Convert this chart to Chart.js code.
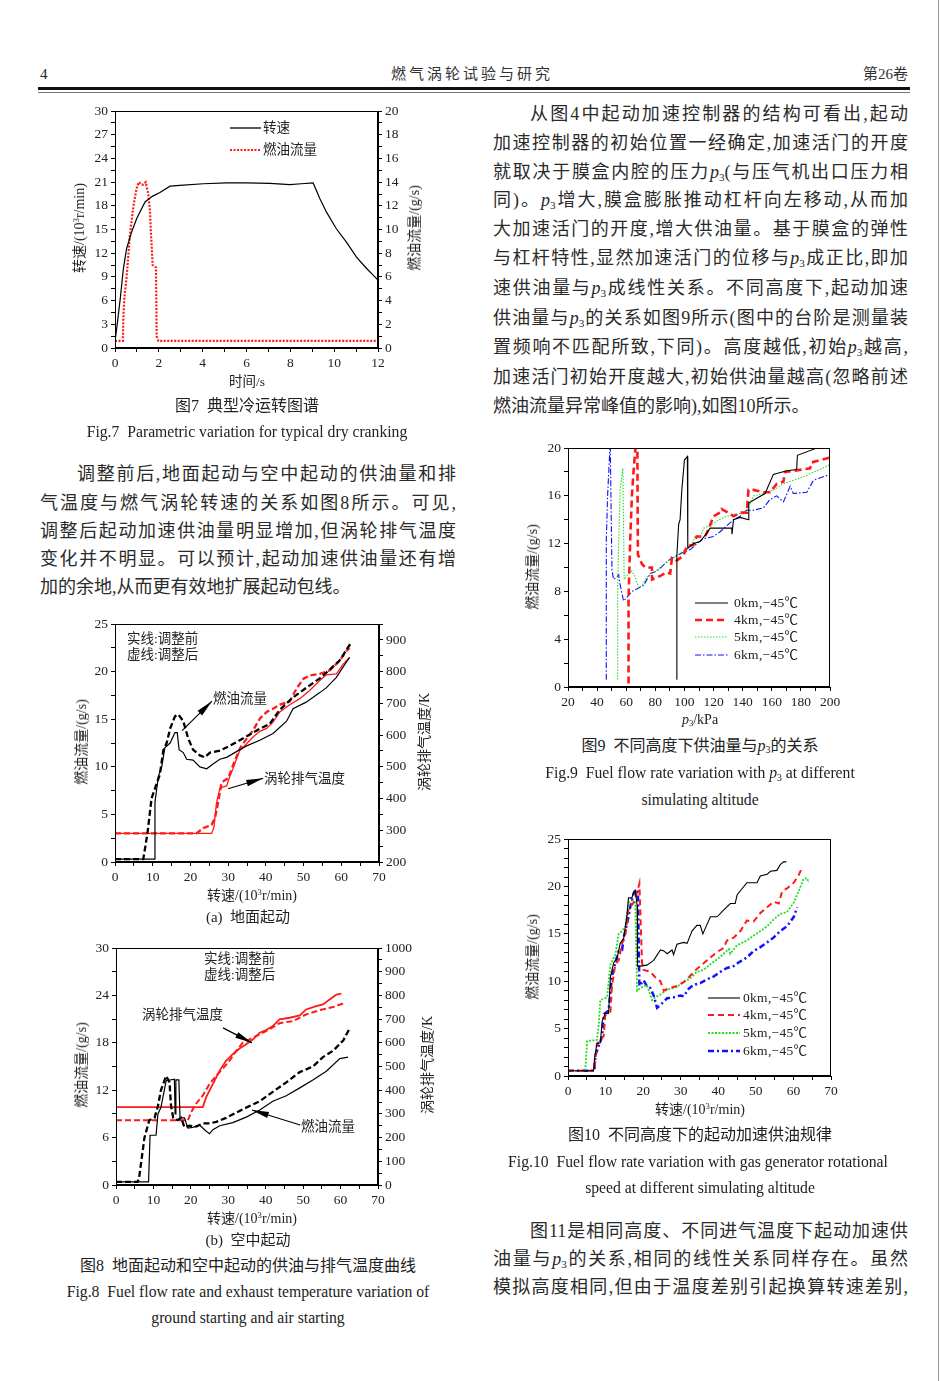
<!DOCTYPE html>
<html><head><meta charset="utf-8">
<script src="https://cdn.jsdelivr.net/npm/chart.js@4"></script>
<style>
html,body{margin:0;padding:0;background:#fff;}
body{width:941px;height:1381px;position:relative;overflow:hidden;font-family:"Liberation Serif","Noto Sans CJK SC",serif;color:#222;}
.t{position:absolute;white-space:nowrap;line-height:1;}
.c{transform:translate(-50%,-50%);}
.l{transform:translateY(-50%);}
.r{transform:translate(-100%,-50%);}
.v{transform:translate(-50%,-50%) rotate(-90deg);}
.para{position:absolute;font-size:18px;height:28px;line-height:28px;white-space:nowrap;color:#2a2a2a;}
.j{text-align:justify;text-align-last:justify;white-space:normal;overflow:hidden;}
sub{font-size:0.62em;vertical-align:-0.25em;line-height:0;}
sup{font-size:0.62em;vertical-align:0.55em;line-height:0;}
canvas{position:absolute;}
svg{position:absolute;overflow:visible;}
</style></head>
<body>
<script>
// ---------------- DATA ----------------
// Fig.7
const f7_speed_t = [0, 0.1, 0.25, 0.38, 0.53, 0.76, 0.99, 1.37, 1.7, 2.05, 2.51, 2.96, 4.03, 5.09, 6, 7.07, 7.98, 8.5, 9.04, 9.35, 9.65, 10.1, 10.56, 11.02, 11.47, 12.0];
const f7_speed   = [0.8, 3, 6.5, 10, 12.6, 14.7, 16.4, 18.5, 19.2, 19.7, 20.5, 20.6, 20.8, 20.9, 20.9, 20.85, 20.7, 20.8, 20.9, 18.9, 17.2, 15.1, 13.4, 11.5, 10.1, 8.6];
const f7_fuel_t  = [0, 0.36, 0.38, 0.43, 0.53, 0.68, 0.84, 0.99, 1.09, 1.2, 1.29, 1.4, 1.52, 1.6, 1.63, 1.72, 1.8, 1.87, 1.9, 1.98, 12];
const f7_fuel    = [0.6, 0.6, 2.5, 4.3, 6, 9.5, 12, 13.5, 14, 13.8, 13.8, 14, 13, 11.5, 10, 7, 6.9, 6.8, 1, 0.6, 0.6];

// Fig.8(a) ground start
const a_fuelBefore_x = [0, 10.5, 10.6, 11.5, 12.4, 13.2, 14.6, 15.9, 16.5, 17, 18.1, 19, 20.7, 22.5, 24.3, 26, 27.8, 29.6, 32.2, 34.9, 38.4, 41.9, 45.5, 47.2, 50.7, 54.3, 56, 58.7, 60.5, 62.2];
const a_fuelBefore_y = [0.3, 0.3, 6.3, 9, 10, 12, 12.5, 13.6, 13.6, 11.8, 11.5, 10.8, 10.7, 10, 9.8, 10.3, 10.8, 11, 11.6, 12.2, 12.8, 13.5, 14.8, 16.1, 16.8, 17.8, 18.3, 19.4, 20.5, 21.5];
const a_fuelAfter_x  = [0, 7.5, 8.6, 9.7, 11, 11.9, 12.8, 13.7, 14.6, 15.9, 16.8, 18.1, 19.4, 20.7, 22.5, 23.8, 25.2, 27.8, 30.4, 33.1, 35.7, 38.4, 41, 43.7, 47.2, 50.7, 54.3, 56.9, 59.6, 62.2, 62.8];
const a_fuelAfter_y  = [0.3, 0.3, 3, 6.7, 8.2, 9.2, 11.7, 12.5, 14, 15.3, 15.5, 14.8, 13, 11.8, 11.2, 11, 11.5, 11.7, 12.2, 12.8, 13.4, 14, 14.5, 16, 17.3, 18.3, 19.3, 20.2, 21.2, 22.8, 23];
const a_tempBefore_x = [0, 25.6, 26.2, 26.9, 27.8, 28.7, 29.6, 30.4, 31.3, 33.1, 34.9, 36.6, 38.4, 40.2, 41.9, 43.7, 46.3, 49, 51.6, 54.3, 56, 58.7, 60.5, 62.2];
const a_tempBefore_y = [290, 290, 307, 385, 432, 437, 440, 469, 495, 552, 573, 594, 612, 621, 641, 673, 696, 715, 741, 772, 790, 793, 824, 845];
const a_tempAfter_x  = [0, 21.6, 23.4, 25.6, 26.5, 27.4, 28.2, 29.1, 30, 31.3, 33.1, 34.9, 36.6, 38.4, 40.2, 41.9, 43.7, 46.3, 48.1, 49.9, 51.6, 54.3, 56.9, 59.6, 61.4, 62.2];
const a_tempAfter_y  = [290, 290, 307, 317, 338, 390, 448, 458, 464, 505, 558, 589, 615, 652, 673, 683, 696, 706, 746, 777, 788, 793, 804, 835, 866, 874];

// Fig.8(b) air start
const b_fuelBefore_x = [0, 8.7, 9.1, 10.7, 11.2, 12, 13.4, 15.6, 15.8, 16, 16.8, 17.1, 18.3, 19.2, 20.5, 22.3, 24.1, 25, 25.9, 27.7, 31.2, 34.8, 38.4, 41.9, 45.5, 49.1, 52.6, 56.2, 59.8, 62];
const b_fuelBefore_y = [0.4, 0.4, 6.3, 6.3, 9, 9.8, 13.2, 13.4, 9, 13.3, 13.3, 8.5, 8.5, 7.2, 7.3, 7.6, 6.8, 6.5, 7, 7.5, 7.9, 8.6, 9.5, 10.6, 11.3, 12.3, 13.3, 14.4, 16, 16.2];
const b_fuelAfter_x  = [0, 5.8, 6.2, 7.6, 8.9, 10.3, 11.2, 12, 13.4, 14.3, 14.7, 15.3, 16.5, 17.4, 18.3, 19.6, 21.4, 23.2, 25, 26.8, 29.4, 33.9, 38.4, 41.9, 45.5, 49.1, 52.6, 55.3, 58, 60.7, 62.4];
const b_fuelAfter_y  = [0.4, 0.4, 1, 6, 8.2, 8.5, 10, 12, 13.8, 13, 10, 8.5, 8.2, 8.5, 7.3, 7.5, 7.4, 7.8, 7.8, 8.0, 8.5, 9.6, 10.6, 11.8, 13, 14.3, 15, 16.2, 17, 18.3, 19.8];
const b_tempBefore_x = [0, 23.2, 24.1, 25.9, 27.7, 29.4, 31.2, 33, 34.8, 36.6, 38.4, 40.1, 41.9, 43.7, 46.4, 49.1, 50.8, 53.5, 55.3, 57.1, 58.9, 60.2];
const b_tempBefore_y = [329, 329, 371, 427, 483, 524, 552, 576, 594, 615, 643, 654, 671, 699, 706, 716, 741, 755, 762, 783, 804, 808];
const b_tempAfter_x  = [0, 19.2, 20.1, 21.4, 23.2, 25, 26.8, 28.5, 30.3, 32.1, 33.9, 35.7, 38.4, 41, 43.7, 47.3, 50.8, 54.4, 58, 61.1];
const b_tempAfter_y  = [273, 273, 308, 343, 378, 427, 462, 490, 524, 566, 601, 615, 636, 657, 683, 692, 720, 738, 751, 769];

// Fig.9 fuel flow vs p3
const f9_0km_x = [94.8, 94.8, 96, 97, 98.2, 100, 102, 102.3, 106.2, 110.8, 114.2, 117.7, 122.2, 125.7, 132.5, 132.7, 133.7, 138.3, 144, 144.2, 149.7, 155.4, 161.1, 170.3, 177.1, 177.6, 190.9];
const f9_0km_y = [0.6, 11, 13.6, 14, 16.5, 19, 19.3, 11.6, 12, 12.2, 12.7, 13.3, 13.3, 13.3, 13.3, 12.8, 14, 14.2, 14, 15.4, 15.8, 16.2, 17.8, 18.1, 18.2, 19.4, 20];
const f9_4km_x = [61.6, 61.6, 62.8, 63.9, 65, 66.2, 67, 67.6, 68, 70.8, 73.1, 77.6, 77.8, 83.4, 88, 90.2, 91.4, 94.8, 99.4, 101.7, 106.2, 108.5, 114.2, 116.5, 120, 124.5, 125.5, 131.4, 133.7, 138.3, 142.8, 144, 147.5, 154.3, 158.8, 163.4, 168, 169.1, 174.8, 186.3, 187.4, 200];
const f9_4km_y = [0.3, 7.5, 12.5, 16, 18, 19.8, 21, 21, 11.1, 10.3, 10, 10, 9, 9.3, 9.6, 9.5, 10.8, 10.6, 11, 11.8, 11.9, 12.6, 12.6, 13.2, 14.3, 14.6, 14.9, 14.5, 14.3, 14.6, 14.6, 16.5, 16.5, 16.3, 16.3, 17, 17.2, 18, 18.1, 18.3, 18.8, 19.2];
const f9_5km_x = [54.1, 54.1, 54.8, 55.9, 57.7, 58.6, 61.6, 63.9, 66.2, 68.5, 70.8, 74.2, 78.8, 83.4, 88, 92.5, 97.1, 101.7, 106.2, 107.4, 110.8, 113.1, 117.7, 122.2, 129.1, 135.9, 142.8, 147.5, 154.3, 161.1, 168, 174.8, 181.7, 190.9, 200];
const f9_5km_y = [0.6, 8, 12, 16.6, 18.3, 9, 9.5, 9.7, 9.2, 8.3, 8.5, 9.2, 9.6, 10, 10.5, 10.8, 11.2, 11.6, 12.2, 12.7, 12.5, 13.3, 13.5, 13.9, 14.3, 14.4, 14.8, 16, 16.2, 16.5, 17, 17.3, 17.6, 18.1, 18.6];
const f9_6km_x = [46.3, 46.3, 47.2, 49, 50.2, 51.3, 53.6, 54.8, 55.9, 58.2, 60.5, 63.9, 67.3, 71.9, 76.5, 81.1, 85.6, 90.2, 94.8, 99.4, 104, 108.5, 113.1, 120, 124.5, 129.1, 133.7, 138.3, 142.8, 147.5, 154.3, 158.8, 163.4, 168, 172.6, 174.8, 184, 188.6, 200];
const f9_6km_y = [0.6, 12.2, 16, 20.5, 9.8, 9, 9.2, 9.4, 8.5, 7.2, 7.5, 8, 8.2, 8.5, 9.5, 9.7, 10.2, 10.7, 11, 11.3, 11.5, 12, 12.4, 12.6, 13, 13.5, 14, 14.3, 14.8, 14.8, 15, 15.7, 16, 15.5, 16.8, 16.2, 16.3, 17.3, 17.8];

// Fig.10 fuel flow vs speed
const f10_0km_x = [0, 6.8, 7.1, 7.7, 8.6, 9.1, 9.9, 10.8, 11.3, 12.2, 13, 13.9, 14.8, 15.7, 16.1, 17, 17.5, 17.9, 18.4, 18.5, 19.3, 21, 22.8, 24.6, 25.5, 26.4, 27.7, 28.1, 29, 30.8, 31.7, 33, 34.3, 35.2, 35.9, 37, 37.9, 39.7, 41.4, 43.2, 44.5, 45, 47.6, 50.3, 51.2, 53, 53.9, 55.6, 56.5, 57.4, 58.1];
const f10_0km_y = [0.55, 0.55, 2, 3.4, 3.5, 5.8, 6.6, 6.6, 10.5, 12, 12.3, 14, 14.5, 17, 18.8, 18.8, 19.4, 19.6, 18, 11.6, 11.6, 11.7, 12.2, 13.3, 13.2, 12.9, 13.3, 12.8, 13.9, 14.1, 14, 15.3, 15.9, 15.9, 15, 16, 16.8, 16.8, 17.5, 18.2, 18.2, 19.1, 20.4, 20.4, 21.1, 21.3, 21.6, 21.7, 22.3, 22.6, 22.6];
const f10_4km_x = [0, 7, 7.7, 8.6, 9.5, 9.9, 11.3, 11.7, 12.6, 13.5, 14.4, 15.3, 16.1, 17.5, 18.4, 19, 19.7, 20.1, 21.9, 23.7, 24.6, 25.5, 26.4, 29, 30.8, 32.6, 34.3, 36.1, 37.9, 39.7, 41.4, 42.3, 44.1, 45.9, 47.6, 49.4, 51.2, 53, 54.7, 56.1, 57, 58.3, 60.1, 61.4, 62.3];
const f10_4km_y = [0.55, 0.55, 3.4, 3.8, 4.2, 6.4, 6.8, 9.5, 11.8, 12.2, 14, 15, 17.6, 18.3, 19.4, 20.3, 12, 11.2, 11, 10.2, 10, 9, 9.2, 9.5, 9.9, 10.6, 11.3, 11.9, 12.5, 13.1, 13.5, 14.3, 14.6, 15.3, 16.4, 16.3, 17.2, 17.8, 18.4, 18.2, 19.5, 19.8, 20.4, 21.2, 22];
const f10_5km_x = [0, 4.6, 5.1, 7.7, 8.2, 8.6, 10.4, 11.3, 12.6, 13.5, 14.4, 15.3, 16.1, 17, 17.9, 18.4, 19.3, 21, 22.4, 23.2, 24.6, 26.4, 29, 30.8, 32.6, 34.3, 36.1, 37.9, 39.7, 41.4, 42.8, 43.2, 45, 47.6, 49.4, 51.2, 53, 54.7, 56.5, 58.3, 60.1, 61.4, 62.7, 63.6, 64.1];
const f10_5km_y = [0.55, 0.55, 3.7, 3.8, 5.5, 8, 8.3, 11.8, 12.8, 15, 15.3, 15.8, 18.3, 18.5, 18.3, 9, 9.3, 9.6, 8, 8.3, 8.6, 9.1, 9.4, 9.9, 10.3, 11, 11.2, 11.8, 12.3, 12.9, 13.4, 12.9, 13.8, 14.3, 14.8, 15.3, 15.8, 16.5, 17.1, 17.3, 18.3, 19.5, 20.8, 20.9, 20.4];
const f10_6km_x = [0, 7, 7.3, 8.2, 8.6, 9.1, 9.5, 10.8, 11.7, 12.6, 13.5, 14.4, 14.8, 15.7, 16.6, 17.5, 18.2, 18.6, 19, 20.1, 21, 21.9, 22.8, 23.7, 24.6, 26.4, 28.1, 29.9, 30.8, 32.1, 33.4, 35.2, 37, 38.8, 40.6, 42.3, 44.1, 45.9, 47.6, 49.4, 51.2, 53, 54.7, 56.5, 58.3, 59.2, 60.1, 61];
const f10_6km_y = [0.55, 0.55, 2.2, 3.2, 3.6, 4.3, 6.5, 6.9, 10.5, 12, 13.2, 13.3, 14.6, 16, 17.9, 19.3, 19.7, 19.6, 9.5, 10.1, 9.5, 9.3, 8.5, 7.2, 7.5, 8.2, 8.3, 8.5, 8.4, 9.2, 9.6, 9.8, 10.2, 10.5, 11, 11.4, 11.6, 12.1, 12.5, 13.2, 13.6, 14.1, 14.6, 15.3, 15.8, 16.3, 16.8, 17.8];

const legend9  = ['0km,−45℃', '4km,−45℃', '5km,−45℃', '6km,−45℃'];
const legend7  = ['转速', '燃油流量'];

// ---------------- HELPERS ----------------
const zip = (xs, ys) => xs.map((x, i) => ({x: x, y: ys[i]}));
const SERIF = '"Liberation Serif","Noto Sans CJK SC",serif';
function T(html, x, y, cls, size, extra) {
  const d = document.createElement('div');
  d.className = 't ' + (cls || 'c');
  d.style.left = x + 'px'; d.style.top = y + 'px';
  d.style.fontSize = (size || 13) + 'px';
  if (extra) d.style.cssText += extra;
  d.innerHTML = html;
  document.body.appendChild(d);
  return d;
}
function P(html, x, cy, w, justify) {
  const d = document.createElement('div');
  d.className = 'para' + (justify ? ' j' : '');
  d.style.left = x + 'px'; d.style.top = (cy - 14) + 'px';
  if (justify) d.style.width = w + 'px';
  d.innerHTML = html;
  document.body.appendChild(d);
}
function legendLine(x1, x2, y, color, width, dash) {
  const s = document.createElementNS('http://www.w3.org/2000/svg', 'svg');
  s.setAttribute('width', x2 - x1); s.setAttribute('height', 6);
  s.style.left = x1 + 'px'; s.style.top = (y - 3) + 'px';
  s.innerHTML = '<line x1="0" y1="3" x2="' + (x2 - x1) + '" y2="3" stroke="' + color + '" stroke-width="' + width + '"' + (dash ? ' stroke-dasharray="' + dash + '"' : '') + '/>';
  document.body.appendChild(s);
}
function hline(x1, x2, y, h, color) {
  const d = document.createElement('div');
  d.style.cssText = 'position:absolute;left:' + x1 + 'px;top:' + y + 'px;width:' + (x2 - x1) + 'px;height:' + h + 'px;background:' + color + ';';
  document.body.appendChild(d);
}
const isMajor = (v, m) => Math.abs(v / m - Math.round(v / m)) < 1e-6;
function scale(pos, min, max, step, major, fit) {
  return {
    type: 'linear', position: pos, min: min, max: max,
    ticks: {stepSize: step, autoSkip: false, maxRotation: 0, minRotation: 0, includeBounds: false,
      color: '#222', padding: 3, font: {family: SERIF, size: 13.5},
      callback: v => isMajor(v, major) ? String(Math.round(v)) : ''},
    grid: {drawOnChartArea: false, drawTicks: true, tickLength: 4, color: '#000', tickColor: '#000', lineWidth: 1},
    border: {display: true, color: '#000', width: 1},
    afterFit: fit
  };
}
const boxPlugin = {
  id: 'box',
  afterDraw(chart) {
    const a = chart.chartArea, ctx = chart.ctx;
    ctx.save(); ctx.strokeStyle = '#000'; ctx.lineWidth = 1;
    ctx.strokeRect(Math.round(a.left) + 0.5, Math.round(a.top) + 0.5, Math.round(a.right - a.left) - 1, Math.round(a.bottom - a.top) - 1);
    ctx.restore();
  }
};
const arrowPlugin = {
  id: 'arrows',
  afterDatasetsDraw(chart, args, opts) {
    const list = opts.list || [];
    const ctx = chart.ctx, xs = chart.scales.x;
    ctx.save(); ctx.strokeStyle = '#000'; ctx.fillStyle = '#000';
    list.forEach(a => {
      const ys = chart.scales[a.axis || 'y'];
      const x1 = xs.getPixelForValue(a.x1), y1 = ys.getPixelForValue(a.y1);
      const x2 = xs.getPixelForValue(a.x2), y2 = ys.getPixelForValue(a.y2);
      ctx.lineWidth = 1.2; ctx.beginPath(); ctx.moveTo(x1, y1); ctx.lineTo(x2, y2); ctx.stroke();
      const ang = Math.atan2(y2 - y1, x2 - x1), c = Math.cos(ang), s = Math.sin(ang), len = 17, hw = 3.2;
      ctx.beginPath(); ctx.moveTo(x2, y2);
      ctx.lineTo(x2 - len * c + hw * s, y2 - len * s - hw * c);
      ctx.lineTo(x2 - len * c - hw * s, y2 - len * s + hw * c);
      ctx.closePath(); ctx.fill();
    });
    ctx.restore();
  }
};
const PADL = 40, PADR = 40, PADT = 10, PADB = 30;
function makeChart(area, scales, datasets, arrows) {
  const c = document.createElement('canvas');
  const w = area.R - area.L + PADL + PADR, h = area.B - area.T + PADT + PADB;
  c.width = w; c.height = h;
  c.style.left = (area.L - PADL) + 'px'; c.style.top = (area.T - PADT) + 'px';
  c.style.width = w + 'px'; c.style.height = h + 'px';
  document.body.appendChild(c);
  const hasRight = !!scales.y2;
  new Chart(c, {
    type: 'line',
    data: {datasets: datasets},
    options: {
      responsive: false, animation: false, events: [],
      layout: {padding: {top: PADT, right: hasRight ? 0 : PADR, left: 0, bottom: 0}},
      plugins: {legend: {display: false}, tooltip: {enabled: false}, arrows: {list: arrows || []}},
      elements: {point: {radius: 0}, line: {tension: 0, borderCapStyle: 'butt', fill: false}},
      scales: scales
    },
    plugins: [boxPlugin, arrowPlugin]
  });
}
const fitY = s => { s.width = 40; };
const fitX = s => { s.height = 30; };
const ds = (data, color, width, dash, axis) => ({data: data, borderColor: color, borderWidth: width, borderDash: dash || [], yAxisID: axis || 'y', pointRadius: 0});

const RED = '#ff1a1a', GREEN = '#22dd22', BLUE = '#1010ff';
const CAPZH = 16, CAPEN = 15.7, AX = 14;

// ---------------- PAGE HEADER ----------------
T('4', 40, 74, 'l', 15);
T('燃气涡轮试验与研究', 472, 74, 'c', 15, 'letter-spacing:3px;color:#333;');
T('第26卷', 908, 74, 'r', 15, 'color:#333;');
hline(38, 910, 87, 3, '#111');
hline(38, 910, 92, 1, '#777');
hline(938, 939, 0, 1381, '#999');

// ---------------- FIG 7 ----------------
makeChart({L: 115, T: 110, R: 378, B: 348}, {
  x: scale('bottom', 0, 12, 1, 2, fitX),
  y: scale('left', 0, 30, 1.5, 3, fitY),
  y2: scale('right', 0, 20, 1, 2, fitY)
}, [
  ds(zip(f7_speed_t, f7_speed), '#000', 1.2),
  ds(zip(f7_fuel_t, f7_fuel), RED, 2.2, [2, 1.5], 'y2')
]);
legendLine(230, 261, 128, '#000', 1.3);
T(legend7[0], 263, 128, 'l', 13.5);
legendLine(230, 261, 150, RED, 2.2, '2,1.5');
T(legend7[1], 263, 150, 'l', 13.5);
T('时间/s', 247, 382, 'c', 13.5);
T('转速/(10<sup>3</sup>r/min)', 80, 228, 'v', AX);
T('燃油流量/(g/s)', 415, 228, 'v', AX);
T('图7&nbsp; 典型冷运转图谱', 247, 406, 'c', CAPZH);
T('Fig.7&nbsp; Parametric variation for typical dry cranking', 247, 432, 'c', CAPEN);

// ---------------- LEFT PARAGRAPH ----------------
P('调整前后,地面起动与空中起动的供油量和排', 77, 474, 379, true);
P('气温度与燃气涡轮转速的关系如图8所示。可见,', 40, 503, 416, true);
P('调整后起动加速供油量明显增加,但涡轮排气温度', 40, 531, 416, true);
P('变化并不明显。可以预计,起动加速供油量还有增', 40, 559, 416, true);
P('加的余地,从而更有效地扩展起动包线。', 40, 587, 0, false);

// ---------------- FIG 8a ----------------
makeChart({L: 115, T: 623, R: 379, B: 862}, {
  x: scale('bottom', 0, 70, 5, 10, fitX),
  y: scale('left', 0, 25, 2.5, 5, fitY),
  y2: scale('right', 200, 950, 50, 100, fitY)
}, [
  ds(zip(a_fuelBefore_x, a_fuelBefore_y), '#000', 1.2),
  ds(zip(a_fuelAfter_x, a_fuelAfter_y), '#000', 2.3, [6, 3]),
  ds(zip(a_tempBefore_x, a_tempBefore_y), RED, 1.3, [], 'y2'),
  ds(zip(a_tempAfter_x, a_tempAfter_y), RED, 2.3, [6, 3], 'y2')
], [
  {x1: 17.8, y1: 13.8, x2: 25.7, y2: 16.9},
  {x1: 30, y1: 7.7, x2: 39.3, y2: 8.8}
]);
T('实线:调整前', 127, 639, 'l', 13.5);
T('虚线:调整后', 127, 655, 'l', 13.5);
T('燃油流量', 213, 699, 'l', 13.5);
T('涡轮排气温度', 264, 779, 'l', 13.5);
T('转速/(10<sup>3</sup>r/min)', 252, 896, 'c', AX);
T('燃油流量/(g/s)', 82, 742, 'v', AX);
T('涡轮排气温度/K', 425, 742, 'v', AX);
T('(a)&nbsp; 地面起动', 248, 917, 'c', 15);

// ---------------- FIG 8b ----------------
makeChart({L: 116, T: 947, R: 378, B: 1185}, {
  x: scale('bottom', 0, 70, 5, 10, fitX),
  y: scale('left', 0, 30, 3, 6, fitY),
  y2: scale('right', 0, 1000, 50, 100, fitY)
}, [
  ds(zip(b_fuelBefore_x, b_fuelBefore_y), '#000', 1.2),
  ds(zip(b_fuelAfter_x, b_fuelAfter_y), '#000', 2.3, [6, 3]),
  ds(zip(b_tempBefore_x, b_tempBefore_y), RED, 1.8, [], 'y2'),
  ds(zip(b_tempAfter_x, b_tempAfter_y), RED, 2.0, [6, 3], 'y2')
], [
  {x1: 28.6, y1: 19.9, x2: 36.3, y2: 18.0},
  {x1: 49.2, y1: 7.6, x2: 36.3, y2: 9.5}
]);
T('实线:调整前', 204, 959, 'l', 13.5);
T('虚线:调整后', 204, 975, 'l', 13.5);
T('涡轮排气温度', 142, 1015, 'l', 13.5);
T('燃油流量', 301, 1127, 'l', 13.5);
T('转速/(10<sup>3</sup>r/min)', 252, 1219, 'c', AX);
T('燃油流量/(g/s)', 82, 1065, 'v', AX);
T('涡轮排气温度/K', 428, 1065, 'v', AX);
T('(b)&nbsp; 空中起动', 248, 1240, 'c', 15);
T('图8&nbsp; 地面起动和空中起动的供油与排气温度曲线', 248, 1266, 'c', CAPZH);
T('Fig.8&nbsp; Fuel flow rate and exhaust temperature variation of', 248, 1292, 'c', CAPEN);
T('ground starting and air starting', 248, 1318, 'c', CAPEN);

// ---------------- RIGHT PARAGRAPH ----------------
const p3 = '<i>p</i><sub>3</sub>';
const RX = 493, RW = 415;
P('从图4中起动加速控制器的结构可看出,起动', RX + 37, 114, RW - 37, true);
P('加速控制器的初始位置一经确定,加速活门的开度', RX, 143, RW, true);
P('就取决于膜盒内腔的压力' + p3 + '(与压气机出口压力相', RX, 171.5, RW, true);
P('同)。' + p3 + '增大,膜盒膨胀推动杠杆向左移动,从而加', RX, 200, RW, true);
P('大加速活门的开度,增大供油量。基于膜盒的弹性', RX, 229, RW, true);
P('与杠杆特性,显然加速活门的位移与' + p3 + '成正比,即加', RX, 258, RW, true);
P('速供油量与' + p3 + '成线性关系。不同高度下,起动加速', RX, 288, RW, true);
P('供油量与' + p3 + '的关系如图9所示(图中的台阶是测量装', RX, 318, RW, true);
P('置频响不匹配所致,下同)。高度越低,初始' + p3 + '越高,', RX, 347, RW, true);
P('加速活门初始开度越大,初始供油量越高(忽略前述', RX, 377, RW, true);
P('燃油流量异常峰值的影响),如图10所示。', RX, 406, 0, false);

// ---------------- FIG 9 ----------------
makeChart({L: 568, T: 447, R: 830, B: 687}, {
  x: scale('bottom', 20, 200, 10, 20, fitX),
  y: scale('left', 0, 20, 2, 4, fitY)
}, [
  ds(zip(f9_0km_x, f9_0km_y), '#000', 1.1),
  ds(zip(f9_4km_x, f9_4km_y), RED, 2.6, [7, 4]),
  ds(zip(f9_5km_x, f9_5km_y), GREEN, 1.1, [1.5, 1.5]),
  ds(zip(f9_6km_x, f9_6km_y), BLUE, 1.1, [6, 2, 1.5, 2])
]);
legendLine(695, 728, 603, '#000', 1.1);
legendLine(695, 728, 620, RED, 2.6, '7,4');
legendLine(695, 728, 637, GREEN, 1.1, '1.5,1.5');
legendLine(695, 728, 655, BLUE, 1.1, '6,2,1.5,2');
[603, 620, 637, 655].forEach((y, i) => T(legend9[i], 734, y, 'l', 13.5, 'letter-spacing:0.3px;'));
T('<i>p</i><sub>3</sub>/kPa', 700, 720, 'c', AX);
T('燃油流量/(g/s)', 533, 567, 'v', AX);
T('图9&nbsp; 不同高度下供油量与<i>p</i><sub>3</sub>的关系', 700, 746, 'c', CAPZH);
T('Fig.9&nbsp; Fuel flow rate variation with <i>p</i><sub>3</sub> at different', 700, 773, 'c', CAPEN);
T('simulating altitude', 700, 800, 'c', CAPEN);

// ---------------- FIG 10 ----------------
makeChart({L: 568, T: 838, R: 831, B: 1076}, {
  x: scale('bottom', 0, 70, 5, 10, fitX),
  y: scale('left', 0, 25, 1, 5, fitY)
}, [
  ds(zip(f10_0km_x, f10_0km_y), '#000', 1.1),
  ds(zip(f10_4km_x, f10_4km_y), RED, 2.0, [6, 4]),
  ds(zip(f10_5km_x, f10_5km_y), GREEN, 1.8, [2, 1.5]),
  ds(zip(f10_6km_x, f10_6km_y), BLUE, 2.5, [6, 3, 2, 3])
]);
legendLine(708, 740, 998, '#000', 1.1);
legendLine(708, 740, 1015, RED, 2.0, '6,4');
legendLine(708, 740, 1033, GREEN, 1.8, '2,1.5');
legendLine(708, 740, 1051, BLUE, 2.5, '6,3,2,3');
[998, 1015, 1033, 1051].forEach((y, i) => T(legend9[i], 743, y, 'l', 13.5, 'letter-spacing:0.3px;'));
T('转速/(10<sup>3</sup>r/min)', 700, 1110, 'c', AX);
T('燃油流量/(g/s)', 533, 957, 'v', AX);
T('图10&nbsp; 不同高度下的起动加速供油规律', 700, 1135, 'c', CAPZH);
T('Fig.10&nbsp; Fuel flow rate variation with gas generator rotational', 698, 1162, 'c', CAPEN);
T('speed at different simulating altitude', 700, 1188, 'c', CAPEN);

// ---------------- BOTTOM RIGHT PARAGRAPH ----------------
P('图11是相同高度、不同进气温度下起动加速供', RX + 37, 1231, RW - 37, true);
P('油量与' + p3 + '的关系,相同的线性关系同样存在。虽然', RX, 1259, RW, true);
P('模拟高度相同,但由于温度差别引起换算转速差别,', RX, 1287, RW, true);
</script>
</body></html>
